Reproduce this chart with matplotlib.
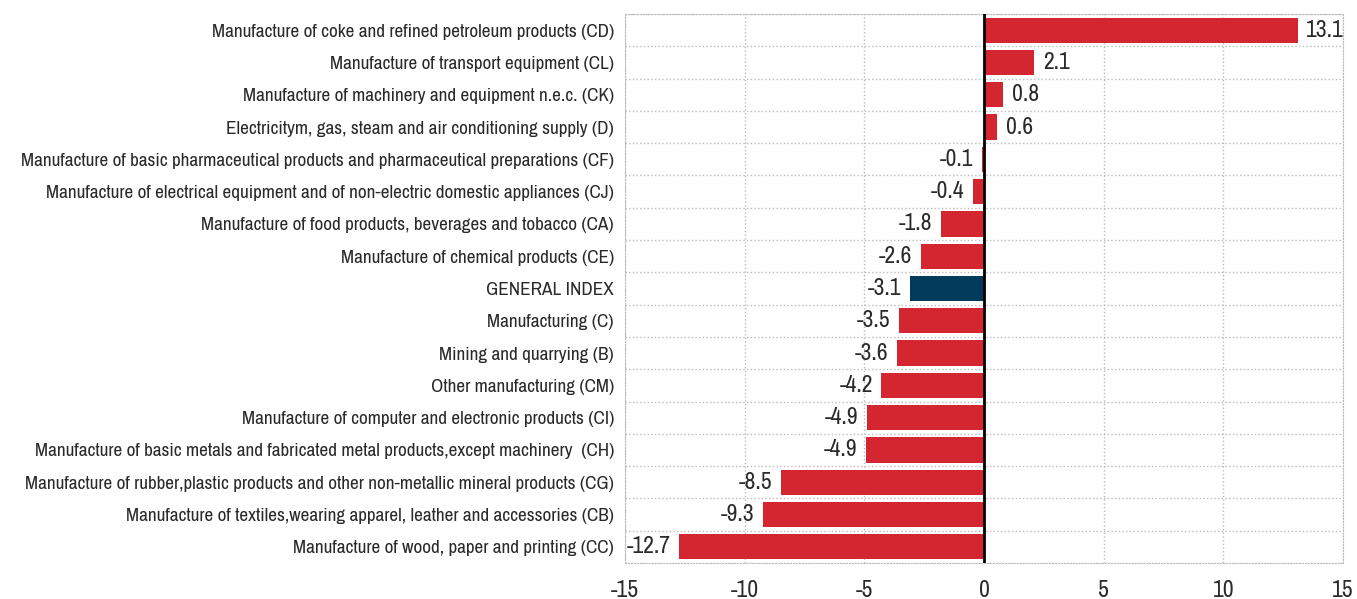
import numpy as np
import matplotlib.pyplot as plt
from matplotlib import font_manager

categories = [
    'Manufacture of coke and refined petroleum products (CD)',
    'Manufacture of transport equipment (CL)',
    'Manufacture of machinery and equipment n.e.c. (CK)',
    'Electricitym, gas, steam and air conditioning supply (D)',
    'Manufacture of basic pharmaceutical products and pharmaceutical preparations (CF)',
    'Manufacture of electrical equipment and of non-electric domestic appliances (CJ)',
    'Manufacture of food products, beverages and tobacco (CA)',
    'Manufacture of chemical products (CE)',
    'GENERAL INDEX',
    'Manufacturing (C)',
    'Mining and quarrying (B)',
    'Other manufacturing (CM)',
    'Manufacture of computer and electronic products (CI)',
    'Manufacture of basic metals and fabricated metal products,except machinery  (CH)',
    'Manufacture of rubber,plastic products and other non-metallic mineral products (CG)',
    'Manufacture of textiles,wearing apparel, leather and accessories (CB)',
    'Manufacture of wood, paper and printing (CC)',
]
values = [13.1, 2.1, 0.8, 0.6, -0.1, -0.4, -1.8, -2.6, -3.1, -3.5, -3.6, -4.2, -4.9, -4.9, -8.5, -9.3, -12.7]
# bar lengths as drawn (the labels are rounded)
bar_values = [13.1, 2.1, 0.8, 0.55, -0.1, -0.45, -1.8, -2.65, -3.1, -3.55, -3.65, -4.3, -4.9, -4.95, -8.5, -9.25, -12.75]

# condensed font like Arial Narrow, if one is around
names = {f.name for f in font_manager.fontManager.ttflist}
fam, lab_size, val_size = 'Liberation Sans', 11.2, 15
for cand in ['Liberation Sans Narrow', 'Archivo Narrow', 'Roboto Condensed']:
    if cand in names:
        fam, lab_size, val_size = cand, 13.8, 17
        break
plt.rcParams['font.family'] = [fam, 'DejaVu Sans']
plt.rcParams['axes.unicode_minus'] = False

red = '#D42631'
navy = '#003B5C'
txt = '#2a2a2a'
colors = [navy if c == 'GENERAL INDEX' else red for c in categories]

fig = plt.figure(figsize=(13.57, 5.99), dpi=100)
ax = fig.add_axes([625 / 1357, 36 / 599, 718 / 1357, 549 / 599])

y = np.arange(len(categories))
ax.barh(y, bar_values, height=0.78, color=colors, zorder=3)
ax.set_ylim(len(categories) - 0.5, -0.5)
ax.set_xlim(-15, 15)
ax.set_xticks(np.arange(-15, 16, 5))
ax.set_yticks(y)
ax.set_yticklabels(categories, fontsize=lab_size, color=txt, fontweight='light')
ax.set_yticks(np.arange(len(categories) + 1) - 0.5, minor=True)
ax.tick_params(axis='y', which='both', length=0, pad=8)
ax.tick_params(axis='x', length=0, labelsize=val_size, pad=12, colors=txt)
ax.grid(axis='x', which='major', color='#BBBBBB', linestyle=':', linewidth=1)
ax.grid(axis='y', which='minor', color='#BBBBBB', linestyle=':', linewidth=1)
ax.grid(axis='y', which='major', visible=False)
for s in ax.spines.values():
    s.set_color('#BBBBBB')
    s.set_linestyle(':')
ax.axvline(0, color='black', linewidth=2, zorder=4)

for i, (v, b) in enumerate(zip(values, bar_values)):
    if v >= 0:
        ax.text(b + 0.35, i, f'{v:.1f}', va='center', ha='left', fontsize=val_size, color=txt)
    else:
        ax.text(b - 0.35, i, f'{v:.1f}', va='center', ha='right', fontsize=val_size, color=txt)

fig.savefig('out.png', dpi=100)
